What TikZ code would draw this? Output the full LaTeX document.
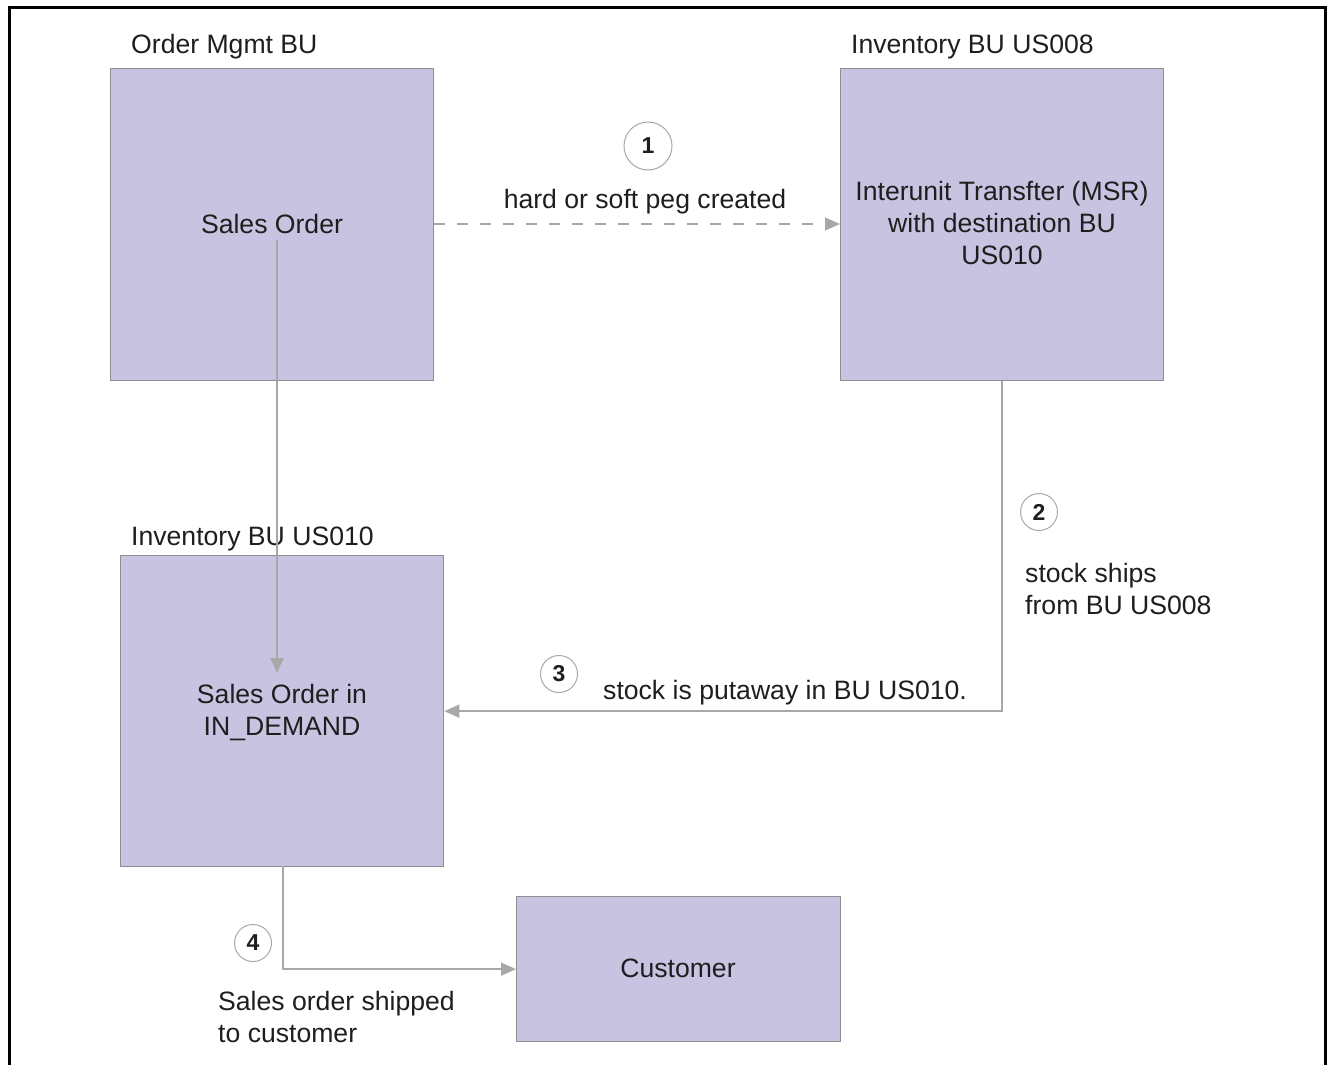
\documentclass[tikz,border=0pt]{standalone}
\usepackage{fontspec}
\setmainfont{Liberation Sans}
\usetikzlibrary{arrows.meta}
\definecolor{boxfill}{HTML}{C7C3E1}
\definecolor{boxline}{HTML}{8E8E8E}
\definecolor{wire}{HTML}{A8A8A8}
\definecolor{ink}{HTML}{1E1E1E}
\begin{document}
\begin{tikzpicture}[x=1pt,y=-1pt,
  every node/.style={text=ink,font=\fontsize{26.6}{32}\selectfont},
  unitbox/.style={draw=boxline,line width=1.3pt,fill=boxfill,inner sep=0pt,
    anchor=north west,align=center},
  title/.style={anchor=west,inner sep=0pt},
  note/.style={anchor=west,inner sep=0pt,align=left},
  flow/.style={draw=wire,line width=1.5pt,-{Triangle[length=15pt,width=13pt]}},
  stepmark/.style={circle,draw=wire,line width=1pt,fill=white,inner sep=0pt,
    minimum size=37pt,font=\bfseries\fontsize{23}{23}\selectfont}]
\useasboundingbox (0,0) rectangle (1328,1065);

% open frame round the whole chart
\draw[line width=3pt,black] (9,1066) -- (9,8) -- (1325.5,8) -- (1325.5,1066);

% business units
\node[unitbox,minimum width=323pt,minimum height=312pt] (om) at (110,68) {};
\node[unitbox,minimum width=323pt,minimum height=312pt] (inv8) at (840,68) {};
\node[unitbox,minimum width=323pt,minimum height=311pt] (inv10) at (120,555) {};
\node[unitbox,minimum width=324pt,minimum height=145pt] (cust) at (516,896) {};

\node (so) at (272,224) {Sales Order};
\node[align=center] (msr) at (1002,223) {Interunit Transfter (MSR)\\with destination BU\\US010};
\node[align=center] (demand) at (282,712) {Sales Order in\\IN\_DEMAND};
\node (custtxt) at (678,968) {Customer};

\node[title] (tom) at (131,47) {Order Mgmt BU};
\node[title] (tinv8) at (851,47) {Inventory BU US008};
\node[title] (tinv10) at (131,539) {Inventory BU US010};

% step 1: peg
\draw[flow,dash pattern=on 11pt off 12pt] (om.east |- so) -- (inv8.west |- so);
\node[stepmark,minimum size=48pt] (s1) at (648,146) {1};
\node (l1) at (645,202) {hard or soft peg created};

% sales order follows into the receiving unit
\coordinate (soout) at (277,240);
\coordinate (soin) at (277,673);
\draw[flow] (soout) -- (soin);

% steps 2 and 3: ship and put away
\draw[flow] (inv8.south) |- (inv10.east);
\node[stepmark] (s2) at (1039,512) {2};
\node[note] (l2) at (1025,589) {stock ships\\from BU US008};
\node[stepmark] (s3) at (559,674) {3};
\node[title] (l3) at (603,693) {stock is putaway in BU US010.};

% step 4: ship to customer
\coordinate (inv10out) at (283,866);
\draw[flow] (inv10out) |- (cust.west);
\node[stepmark] (s4) at (253,943) {4};
\node[note] (l4) at (218,1017) {Sales order shipped\\to customer};
\end{tikzpicture}
\end{document}
